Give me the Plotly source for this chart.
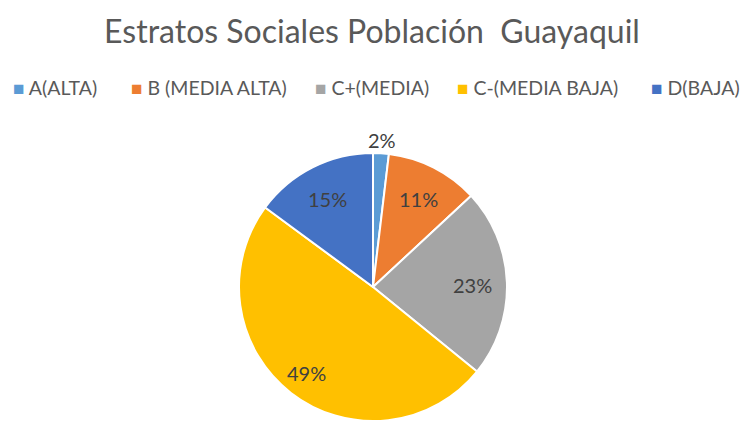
import math
import plotly.graph_objects as go

categories = ["A(ALTA)", "B (MEDIA ALTA)", "C+(MEDIA)", "C-(MEDIA BAJA)", "D(BAJA)"]
values = [1.9, 11.2, 22.8, 49.3, 14.9]
colors = ["#5B9BD5", "#ED7D31", "#A5A5A5", "#FFC000", "#4472C4"]
title_text = "Estratos Sociales Población  Guayaquil"

W, H = 742, 421
cx, cy, r = 373, 288, 135
FONT = "Lato, Open Sans, sans-serif"

fig = go.Figure(go.Pie(
    labels=categories,
    values=values,
    sort=False,
    direction="clockwise",
    rotation=0,
    marker=dict(colors=colors, line=dict(color="white", width=2)),
    textinfo="none",
    showlegend=False,
    domain=dict(x=[(cx - r) / W, (cx + r) / W], y=[max(0, (H - cy - r)) / H, min(1, (H - cy + r) / H)]),
    hoverinfo="label+percent",
))

# data labels positioned along each slice bisector (computed from the values)
total = sum(values)
cum = 0.0
ann = []
for v in values:
    mid = (cum + v / 2) / total * 2 * math.pi
    cum += v
    pct = v / total
    frac = 1.1 if pct < 0.05 else (0.8 if pct > 0.4 else 0.74)
    px = cx + frac * r * math.sin(mid)
    py = cy - frac * r * math.cos(mid)
    ann.append(dict(x=px / W, y=1 - py / H, xref="paper", yref="paper",
                    text=f"{round(pct * 100)}%", showarrow=False,
                    xanchor="center", yanchor="middle",
                    font=dict(family=FONT, size=20, color="#404040")))

# legend row (Excel-style: small square then label)
legend_left = [11, 129, 313, 455, 649]
for lab, col, lx in zip(categories, colors, legend_left):
    ann.append(dict(x=lx / W, y=1 - 87 / H, xref="paper", yref="paper",
                    text=f"<span style='color:{col};font-size:19px'>■</span> {lab}",
                    showarrow=False, xanchor="left", yanchor="middle",
                    font=dict(family=FONT, size=19.5, color="#595959")))

fig.update_layout(
    width=W, height=H,
    margin=dict(l=0, r=0, t=0, b=0),
    paper_bgcolor="white",
    plot_bgcolor="white",
    font=dict(family=FONT, color="#595959"),
    title=dict(text=title_text, x=372 / W, xanchor="center", y=1 - 32 / H, yanchor="middle",
               font=dict(size=32, color="#595959")),
    annotations=ann,
    showlegend=False,
)

fig.write_html("out.html", config={"displayModeBar": False},
               post_script="document.body.style.margin='0';")
